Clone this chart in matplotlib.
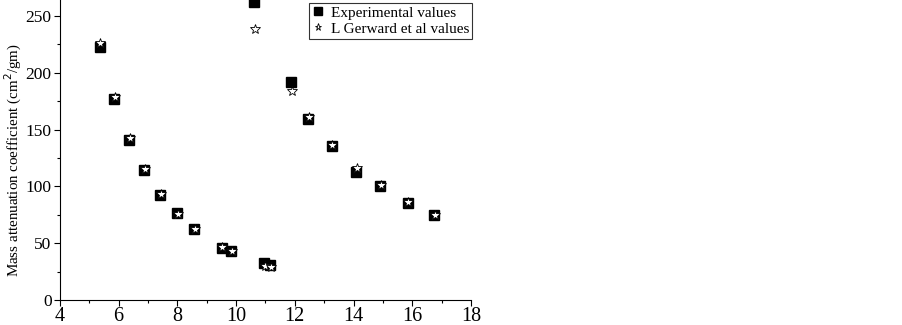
import matplotlib
matplotlib.use("Agg")
import matplotlib.pyplot as plt
from matplotlib.ticker import MultipleLocator

# energy (keV) and mass attenuation coefficient (cm2/gm)
exp_x = [5.36, 5.84, 6.36, 6.87, 7.42, 7.99, 8.58, 9.51, 9.83, 10.61,
         10.96, 11.16, 11.86, 12.46, 13.26, 14.09, 14.91, 15.84, 16.75]
exp_y = [223, 176.5, 141, 114, 92.5, 76.3, 62.5, 46, 43, 262,
         32.5, 31, 191.5, 159.5, 135.5, 113, 100.5, 85.7, 74.5]

ger_x = [5.38, 5.86, 6.38, 6.89, 7.44, 8.01, 8.60, 9.53, 9.85, 10.63,
         11.0, 11.2, 11.89, 12.48, 13.28, 14.12, 14.93, 15.86, 16.77]
ger_y = [226, 179, 142.5, 115, 93.5, 76, 62.5, 46.5, 43.5, 238.5,
         29.5, 29, 183.5, 161, 136.5, 116.5, 101, 86, 74.5]

plt.rcParams['font.family'] = ['Liberation Serif', 'DejaVu Serif']

fig = plt.figure(figsize=(9.03, 3.25), dpi=100)
ax = fig.add_axes([0.0664, 0.0769, 0.4552, 0.9231])

ax.plot(exp_x, exp_y, 's', color='black', markersize=7.5, linestyle='none',
        label='Experimental values', clip_on=False)
ax.plot(ger_x, ger_y, '*', markerfacecolor='white', markeredgecolor='black',
        markeredgewidth=0.6, markersize=7, linestyle='none',
        label='L Gerward et al values', clip_on=False)

ax.set_xlim(4, 18)
ax.set_ylim(0, 264)
ax.xaxis.set_major_locator(MultipleLocator(2))
ax.xaxis.set_minor_locator(MultipleLocator(1))
ax.yaxis.set_major_locator(MultipleLocator(50))
ax.yaxis.set_minor_locator(MultipleLocator(25))
ax.tick_params(which='both', direction='out', width=0.8)
ax.tick_params(which='major', length=4, pad=2)
ax.tick_params(which='minor', length=2.5)
ax.tick_params(axis='x', labelsize=14.5, pad=1)
ax.tick_params(axis='y', labelsize=12.5)
ax.spines['top'].set_visible(False)
ax.spines['right'].set_visible(False)

ax.set_ylabel('Mass attenuation coefficient (cm$^2$/gm)', fontsize=10.8)
ax.yaxis.set_label_coords(-0.088, 0.467)

leg = ax.legend(loc='upper right', bbox_to_anchor=(1.01, 1.0), fontsize=11,
                frameon=True, fancybox=False, edgecolor='black',
                handlelength=0.8, handletextpad=0.4, borderpad=0.2,
                labelspacing=0.15, markerscale=0.75, borderaxespad=0.2)
leg.get_frame().set_linewidth(0.8)

fig.savefig('out.png', dpi=100)
